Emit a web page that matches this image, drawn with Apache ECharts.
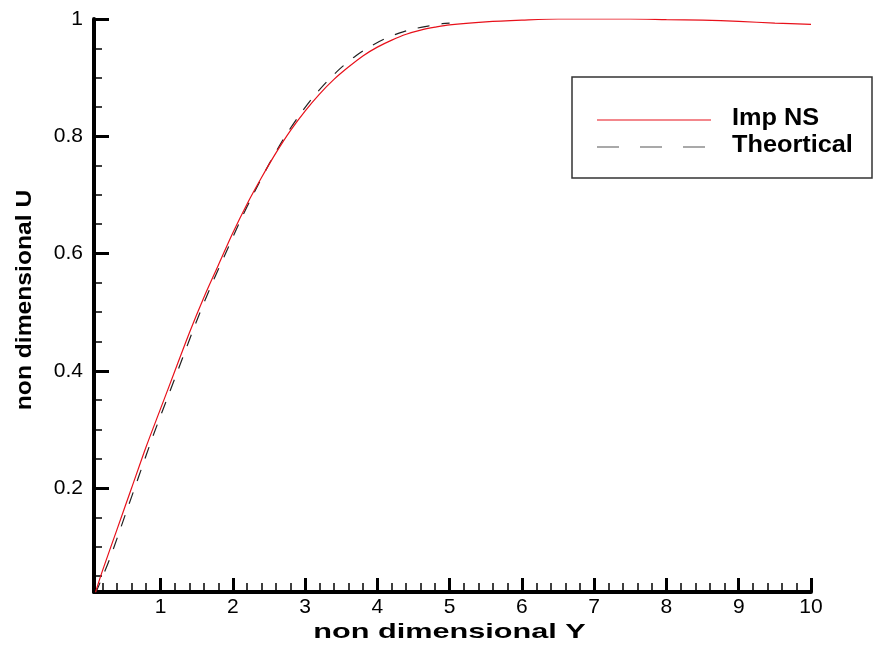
<!DOCTYPE html>
<html>
<head>
<meta charset="utf-8">
<script src="https://cdn.jsdelivr.net/npm/echarts@6/dist/echarts.min.js"></script>
<style>html,body{margin:0;padding:0;background:#fff}#c{width:873px;height:648px}</style>
</head>
<body>
<div id="c"></div>
<script>
// Imp NS (red solid)
const impX = [0.1, 0.2, 0.4, 0.6, 0.8, 1.0, 1.2, 1.4, 1.6, 1.8, 2.0, 2.2, 2.4, 2.6, 2.8, 3.0, 3.2, 3.4, 3.6, 3.8, 4.0, 4.2, 4.4, 4.6, 4.8, 5.0, 5.5, 6.0, 6.5, 7.0, 7.5, 8.0, 8.5, 9.0, 9.5, 10.0];
const impU = [0.022, 0.06, 0.13, 0.20, 0.27, 0.335, 0.40, 0.465, 0.525, 0.58, 0.635, 0.685, 0.73, 0.772, 0.81, 0.843, 0.872, 0.897, 0.918, 0.937, 0.952, 0.964, 0.974, 0.981, 0.986, 0.99, 0.995, 0.998, 1.0, 1.0, 1.0, 0.999, 0.998, 0.996, 0.993, 0.991];
// Theortical (black dashed)
const theoX = [0.1, 0.3, 0.5, 0.7, 0.9, 1.1, 1.3, 1.5, 1.7, 1.9, 2.1, 2.3, 2.5, 2.7, 2.9, 3.1, 3.3, 3.5, 3.7, 3.9, 4.1, 4.3, 4.5, 4.7, 4.9, 5.0];
const theoU = [0.02, 0.08, 0.15, 0.22, 0.29, 0.355, 0.42, 0.485, 0.545, 0.60, 0.655, 0.705, 0.752, 0.795, 0.832, 0.865, 0.893, 0.917, 0.937, 0.953, 0.966, 0.976, 0.983, 0.988, 0.992, 0.993];

const xMajorTicks = [1, 2, 3, 4, 5, 6, 7, 8, 9, 10];
const xMinorTicks = [0.2, 0.4, 0.6, 0.8, 1.2, 1.4, 1.6, 1.8, 2.2, 2.4, 2.6, 2.8, 3.2, 3.4, 3.6, 3.8, 4.2, 4.4, 4.6, 4.8, 5.2, 5.4, 5.6, 5.8, 6.2, 6.4, 6.6, 6.8, 7.2, 7.4, 7.6, 7.8, 8.2, 8.4, 8.6, 8.8, 9.2, 9.4, 9.6, 9.8];
const yMajorTicks = [0.2, 0.4, 0.6, 0.8, 1];
const yMinorTicks = [0.05, 0.1, 0.15, 0.25, 0.3, 0.35, 0.45, 0.5, 0.55, 0.65, 0.7, 0.75, 0.85, 0.9, 0.95];

const seriesNames = ['Imp NS', 'Theortical'];
const xTitle = 'non dimensional Y';
const yTitle = 'non dimensional U';

const FONT = 'Liberation Sans, Arial, sans-serif';
const xMin = 0.08, xMax = 10, yMin = 0.0227, yMax = 1;

const chart = echarts.init(document.getElementById('c'), null, {renderer: 'canvas'});

function zip(a, b) { return a.map((v, i) => [v, b[i]]); }

const baseX = {type: 'value', min: xMin, max: xMax, position: 'bottom', splitLine: {show: false}};
const baseY = {type: 'value', min: yMin, max: yMax, position: 'left', splitLine: {show: false}};

chart.setOption({
  animation: false,
  backgroundColor: '#fff',
  grid: {left: 94, right: 62, top: 19, bottom: 56, containLabel: false, outerBoundsMode: 'none'},
  xAxis: [
    Object.assign({}, baseX, {
      axisLine: {show: true, lineStyle: {color: '#000', width: 4}},
      axisTick: {show: true, inside: true, length: 14, lineStyle: {color: '#000', width: 3}, customValues: xMajorTicks},
      axisLabel: {show: true, customValues: xMajorTicks, color: '#000', fontSize: 21, fontFamily: FONT, margin: 5,
        formatter: v => String(v)}
    }),
    Object.assign({}, baseX, {
      axisLine: {show: false},
      axisTick: {show: true, inside: true, length: 9, lineStyle: {color: '#000', width: 1.5}, customValues: xMinorTicks},
      axisLabel: {show: false}
    })
  ],
  yAxis: [
    Object.assign({}, baseY, {
      axisLine: {show: true, lineStyle: {color: '#000', width: 4}},
      axisTick: {show: true, inside: true, length: 15, lineStyle: {color: '#000', width: 3}, customValues: yMajorTicks},
      axisLabel: {show: true, customValues: yMajorTicks, color: '#000', fontSize: 21, fontFamily: FONT, margin: 11,
        formatter: v => String(v)}
    }),
    Object.assign({}, baseY, {
      axisLine: {show: false},
      axisTick: {show: true, inside: true, length: 8, lineStyle: {color: '#000', width: 1.5}, customValues: yMinorTicks},
      axisLabel: {show: false}
    })
  ],
  series: [
    {name: seriesNames[0], type: 'line', xAxisIndex: 0, yAxisIndex: 0, data: zip(impX, impU), showSymbol: false, smooth: 0.3,
      lineStyle: {color: '#e8101a', width: 1.2}, z: 3},
    {name: seriesNames[1], type: 'line', xAxisIndex: 0, yAxisIndex: 0, data: zip(theoX, theoU), showSymbol: false, smooth: 0.3,
      lineStyle: {color: '#222', width: 1.2, type: [12, 12]}, z: 2}
  ],
  graphic: [
    {type: 'rect', shape: {x: 572, y: 77, width: 300, height: 101}, style: {fill: '#fff', stroke: '#333', lineWidth: 1.5}, z: 10},
    {type: 'line', shape: {x1: 597, y1: 120, x2: 711, y2: 120}, style: {stroke: '#e8101a', lineWidth: 1.2}, z: 11},
    {type: 'line', shape: {x1: 597, y1: 147, x2: 705, y2: 147}, style: {stroke: '#555', lineWidth: 1.2, lineDash: [22, 21]}, z: 11},
    {type: 'text', x: 732, y: 119, scaleX: 1.1, style: {text: seriesNames[0], font: 'bold 23px ' + FONT, fill: '#000', align: 'left', verticalAlign: 'middle'}, z: 11},
    {type: 'text', x: 732, y: 146, scaleX: 1.1, style: {text: seriesNames[1], font: 'bold 23px ' + FONT, fill: '#000', align: 'left', verticalAlign: 'middle'}, z: 11},
    {type: 'text', x: 449.5, y: 632, scaleX: 1.46, style: {text: xTitle, font: 'bold 21px ' + FONT, fill: '#000', align: 'center', verticalAlign: 'middle'}, z: 11},
    {type: 'text', x: 25, y: 300, rotation: Math.PI / 2, scaleX: 1.12, style: {text: yTitle, font: 'bold 22px ' + FONT, fill: '#000', align: 'center', verticalAlign: 'middle'}, z: 11}
  ]
});
</script>
</body>
</html>
